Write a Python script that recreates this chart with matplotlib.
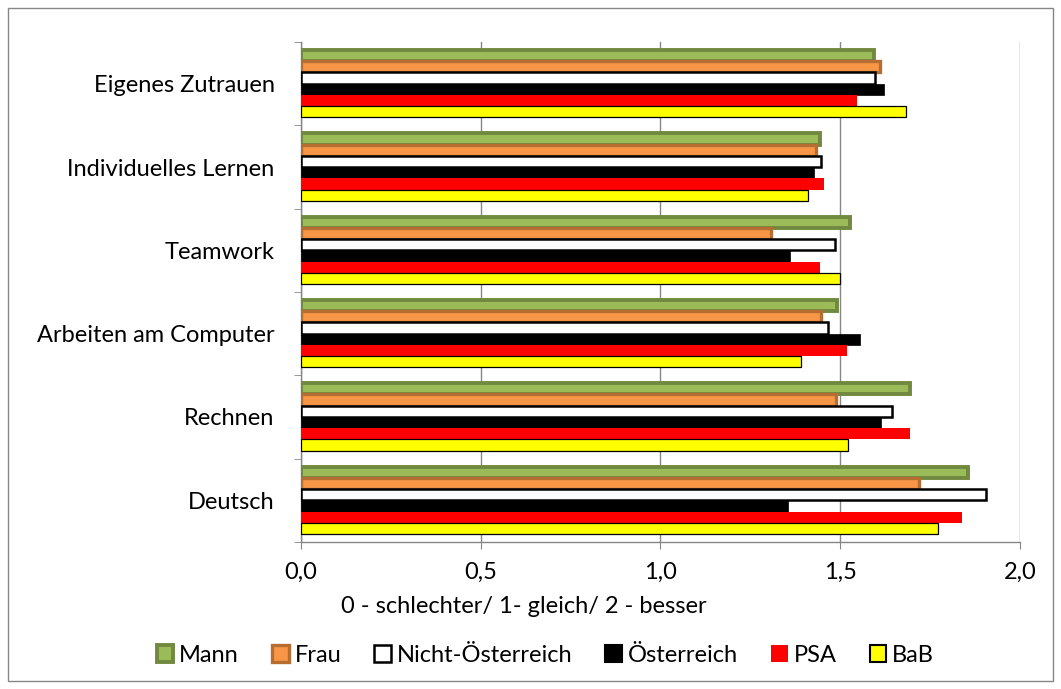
import numpy as np
import matplotlib
matplotlib.use("Agg")
from matplotlib import pyplot as plt
from matplotlib.patches import Rectangle, Patch

plt.rcParams['font.family'] = ['Lato', 'DejaVu Sans']

# categories from bottom to top
categories = ['Deutsch', 'Rechnen', 'Arbeiten am Computer', 'Teamwork',
              'Individuelles Lernen', 'Eigenes Zutrauen']
series = ['Mann', 'Frau', 'Nicht-Österreich', 'Österreich', 'PSA', 'BaB']

mann = [1.856, 1.694, 1.491, 1.527, 1.445, 1.594]
frau = [1.718, 1.487, 1.447, 1.307, 1.434, 1.611]
nicht_oe = [1.905, 1.644, 1.465, 1.485, 1.446, 1.597]
oesterreich = [1.355, 1.614, 1.555, 1.360, 1.427, 1.622]
psa = [1.839, 1.695, 1.520, 1.444, 1.455, 1.548]
bab = [1.773, 1.522, 1.391, 1.499, 1.410, 1.683]
values = [mann, frau, nicht_oe, oesterreich, psa, bab]

x_ticks = [0.0, 0.5, 1.0, 1.5, 2.0]
x_ticklabels = ['0,0', '0,5', '1,0', '1,5', '2,0']

styles = [
    dict(color='#9BBB59', edgecolor='#71893F', linewidth=2.8),
    dict(color='#F79646', edgecolor='#B66D31', linewidth=2.4),
    dict(color='white', edgecolor='black', linewidth=1.8),
    dict(color='black', edgecolor='black', linewidth=0.5),
    dict(color='#FF0000', edgecolor='#FF0000', linewidth=0),
    dict(color='#FFFF00', edgecolor='black', linewidth=0.9),
]

fs = 17

fig = plt.figure(figsize=(10.61, 6.89), dpi=100)
ax = fig.add_axes([0.2837, 0.2134, 0.9613 - 0.2837, 0.939 - 0.2134])

y = np.arange(len(categories))
h = 0.135
for j, (vals, st) in enumerate(zip(values, styles)):
    ax.barh(y + (2.5 - j) * h, vals, height=h, label=series[j], zorder=3 + j * 0.01, **st)

ax.set_xlim(0, 2.0)
ax.set_ylim(-0.5, 5.5)
ax.set_xticks(x_ticks)
ax.set_xticklabels(x_ticklabels, fontsize=fs)
ax.set_yticks(y)
ax.set_yticklabels(categories, fontsize=fs)
ax.tick_params(axis='y', length=0, pad=19)
ax.set_yticks(np.arange(-0.5, 6.0, 1.0), minor=True)
ax.tick_params(axis='y', which='minor', length=5, color='#868686')
ax.tick_params(axis='x', length=5, color='#868686', pad=9)
ax.grid(axis='x', color='#868686', linewidth=1.0, zorder=0)
ax.set_axisbelow(True)
for s in ['top', 'right']:
    ax.spines[s].set_visible(False)
for s in ['left', 'bottom']:
    ax.spines[s].set_color('#868686')
    ax.spines[s].set_linewidth(1.0)

fig.text(0.494, 0.12, '0 - schlechter/ 1- gleich/ 2 - besser', fontsize=fs,
         ha='center', va='center')

handles = [Patch(facecolor=st['color'], edgecolor=st['edgecolor'],
                 linewidth=max(st['linewidth'], 1.5) if j != 4 else 0)
           for j, st in enumerate(styles)]
fig.legend(handles, series, loc='center', bbox_to_anchor=(0.514, 0.049), ncol=6,
           frameon=False, fontsize=fs, handlelength=0.7, handleheight=0.7,
           handletextpad=0.25, columnspacing=1.4)

fig.patches.append(Rectangle((8 / 1061, 8 / 689), 1045 / 1061, 673 / 689,
                             transform=fig.transFigure, fill=False,
                             edgecolor='#868686', linewidth=1.0))

fig.savefig('out.png', dpi=100)
